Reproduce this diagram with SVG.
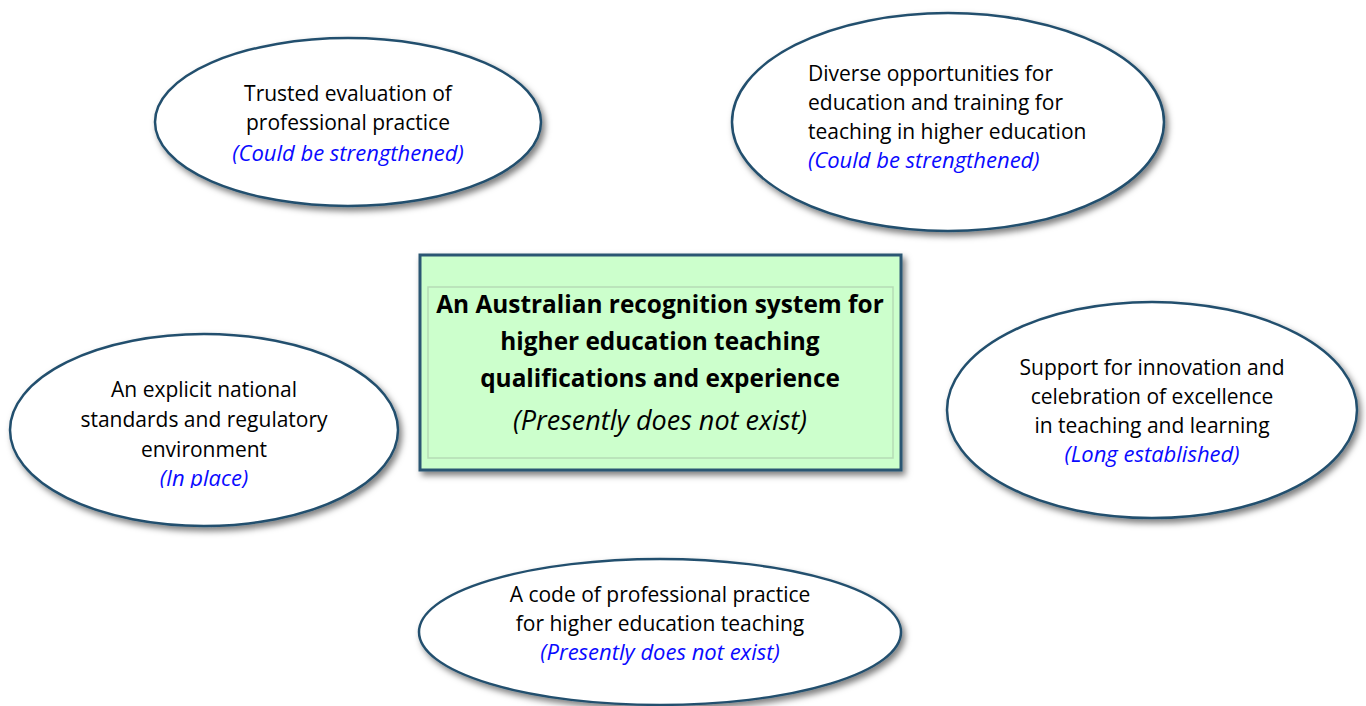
<svg xmlns="http://www.w3.org/2000/svg" width="1366" height="706" viewBox="0 0 1366 706">
<style>
.el{fill:#ffffff;stroke:#24506e;stroke-width:2.5;filter:url(#sh)}
.t{font-family:"Open Sans","Liberation Sans",sans-serif;font-size:21px;fill:#000}
.c{text-anchor:middle}
.b{fill:#0a0aff;font-style:italic;font-size:22px}
.h{font-family:"Open Sans","Liberation Sans",sans-serif;font-size:24.4px;font-weight:bold;fill:#000;text-anchor:middle}
.hi{font-family:"Open Sans","Liberation Sans",sans-serif;font-size:27px;font-style:italic;fill:#000;text-anchor:middle}
</style>
<defs>
<filter id="sh" x="-10%" y="-10%" width="125%" height="130%">
<feDropShadow dx="3" dy="4" stdDeviation="3" flood-color="#000" flood-opacity="0.5"/>
</filter>
<clipPath id="clipIn"><rect x="0" y="460" width="410" height="28"/></clipPath>
</defs>
<rect width="1366" height="706" fill="#ffffff"/>
<g id="connectors"></g>
<g id="center">
<rect x="420" y="255" width="481" height="215" fill="#ccffcc" stroke="#2b5673" stroke-width="3" filter="url(#sh)"/>
<rect x="428" y="287" width="465" height="171" fill="none" stroke="#b5dcb5" stroke-width="1.5"/>
<text class="h" x="660" y="313">An Australian recognition system for</text>
<text class="h" x="660" y="350">higher education teaching</text>
<text class="h" x="660" y="387">qualifications and experience</text>
<text class="hi" x="660" y="430">(Presently does not exist)</text>
</g>
<g id="node-evaluation">
<ellipse class="el" cx="348" cy="122" rx="193" ry="84"/>
<text class="t c" x="348" y="101">Trusted evaluation of</text>
<text class="t c" x="348" y="130">professional practice</text>
<text class="t c b" x="348" y="161">(Could be strengthened)</text>
</g>
<g id="node-opportunities">
<ellipse class="el" cx="948" cy="122" rx="216" ry="109"/>
<text class="t" x="808" y="81">Diverse opportunities for</text>
<text class="t" x="808" y="110">education and training for</text>
<text class="t" x="808" y="139">teaching in higher education</text>
<text class="t b" x="808" y="168">(Could be strengthened)</text>
</g>
<g id="node-standards">
<ellipse class="el" cx="204" cy="430" rx="194" ry="96"/>
<text class="t c" x="204" y="397">An explicit national</text>
<text class="t c" x="204" y="427">standards and regulatory</text>
<text class="t c" x="204" y="457">environment</text>
<text class="t c b" x="204" y="486" clip-path="url(#clipIn)">(In place)</text>
</g>
<g id="node-support">
<ellipse class="el" cx="1152" cy="410" rx="205" ry="108"/>
<text class="t c" x="1152" y="375">Support for innovation and</text>
<text class="t c" x="1152" y="404">celebration of excellence</text>
<text class="t c" x="1152" y="433">in teaching and learning</text>
<text class="t c b" x="1152" y="462">(Long established)</text>
</g>
<g id="node-code">
<ellipse class="el" cx="660" cy="632" rx="241" ry="73"/>
<text class="t c" x="660" y="602">A code of professional practice</text>
<text class="t c" x="660" y="631">for higher education teaching</text>
<text class="t c b" x="660" y="660">(Presently does not exist)</text>
</g>
</svg>
